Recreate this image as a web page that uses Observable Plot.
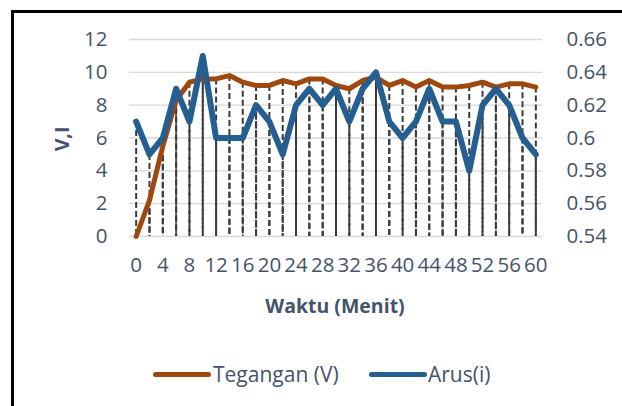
<!DOCTYPE html>
<html><head><meta charset="utf-8">
<script src="https://cdn.jsdelivr.net/npm/d3@7"></script>
<script src="https://cdn.jsdelivr.net/npm/@observablehq/plot@0.6"></script>
<style>
body{margin:0;background:#fff;font-family:"Open Sans",sans-serif;}
#wrap{position:relative;width:622px;height:406px;overflow:hidden;background:#fff;}
#frame{position:absolute;left:11px;top:10px;width:800px;height:600px;border-left:3px solid #000;border-top:3px solid #000;pointer-events:none;}
#chart{position:absolute;left:0;top:0;}
.t{position:absolute;color:#44546A;font-family:"Open Sans",sans-serif;white-space:nowrap;}
.xt{left:335px;top:305px;transform:translate(-50%,-50%);font-weight:bold;font-size:19.5px;}
.yt{left:61px;top:139px;transform:translate(-50%,-50%) rotate(-90deg);font-weight:bold;font-size:19.5px;}
.sw{position:absolute;height:5px;border-radius:3px;}
.lg{font-size:21px;transform:translateY(-50%);}
</style></head>
<body>
<div id="wrap">
  <div id="chart"></div>
  <div class="t xt">Waktu (Menit)</div>
  <div class="t yt">V,I</div>
  <div id="legend"></div>
  <div id="frame"></div>
</div>
<script>
const minutes = [0,2,4,6,8,10,12,14,16,18,20,22,24,26,28,30,32,34,36,38,40,42,44,46,48,50,52,54,56,58,60];
const tegangan = [0,2.2,5.5,8.3,9.4,9.6,9.6,9.8,9.4,9.2,9.2,9.5,9.3,9.6,9.6,9.2,9.0,9.5,9.7,9.2,9.5,9.1,9.5,9.1,9.1,9.2,9.4,9.1,9.3,9.3,9.1];
const arus = [0.61,0.59,0.60,0.63,0.61,0.65,0.60,0.60,0.60,0.62,0.61,0.59,0.62,0.63,0.62,0.63,0.61,0.63,0.64,0.61,0.60,0.61,0.63,0.61,0.61,0.58,0.62,0.63,0.62,0.60,0.59];
const xTicks = [0,4,8,12,16,20,24,28,32,36,40,44,48,52,56,60];
const leftTicks = [0,2,4,6,8,10,12];
const rightTicks = ["0.54","0.56","0.58","0.6","0.62","0.64","0.66"];
const seriesNames = ["Tegangan (V)","Arus(i)"];
const seriesColors = ["#9E480E","#255E91"];

// secondary axis (0.54–0.66) mapped onto the primary axis range (0–12)
const toLeft = a => (a - 0.54) / 0.12 * 12;
const rows = minutes.map((m,i)=>({m, v: tegangan[i], a: toLeft(arus[i])}));

const chart = Plot.plot({
  width: 622, height: 330,
  marginLeft: 129, marginRight: 80, marginTop: 39, marginBottom: 94,
  x: {domain: [-1, 61]},
  y: {domain: [0, 12]},
  style: {fontFamily: "'Open Sans', sans-serif", fontSize: "20.5px", color: "#44546A", background: "transparent"},
  marks: [
    Plot.gridY(leftTicks, {stroke: "#D9D9D9", strokeOpacity: 1, strokeWidth: 1.3}),
    Plot.axisY(leftTicks, {anchor: "left", tickSize: 0, tickPadding: 22, label: null}),
    Plot.axisY(leftTicks, {anchor: "right", tickSize: 0, tickPadding: 24, label: null,
      tickFormat: d => rightTicks[leftTicks.indexOf(d)]}),
    Plot.axisX(xTicks, {tickSize: 0, tickPadding: 21, label: null}),
    Plot.ruleX(rows.filter(d => d.v > 0), {x: "m", y1: "v", y2: 0, stroke: "#3A3A3A", strokeWidth: 2, strokeDasharray: "6,3"}),
    Plot.ruleX(rows, {x: "m", y1: "a", y2: 0, stroke: "#3A3A3A", strokeWidth: 2, strokeDasharray: "6,3"}),
    Plot.line(rows, {x: "m", y: "v", stroke: seriesColors[0], strokeWidth: 5, strokeLinejoin: "round", strokeLinecap: "round"}),
    Plot.line(rows, {x: "m", y: "a", stroke: seriesColors[1], strokeWidth: 6, strokeLinejoin: "round", strokeLinecap: "round"})
  ]
});
document.getElementById("chart").append(chart);

const lg = document.getElementById("legend");
const swX = [153, 369], txX = [213, 428];
seriesNames.forEach((n,i)=>{
  const s = document.createElement("div");
  s.className = "sw";
  s.style.left = swX[i] + "px"; s.style.top = "372px"; s.style.width = "58px";
  s.style.background = seriesColors[i];
  lg.append(s);
  const t = document.createElement("div");
  t.className = "t lg";
  t.style.left = txX[i] + "px"; t.style.top = "374px";
  t.textContent = n;
  lg.append(t);
});
</script>
</body></html>
